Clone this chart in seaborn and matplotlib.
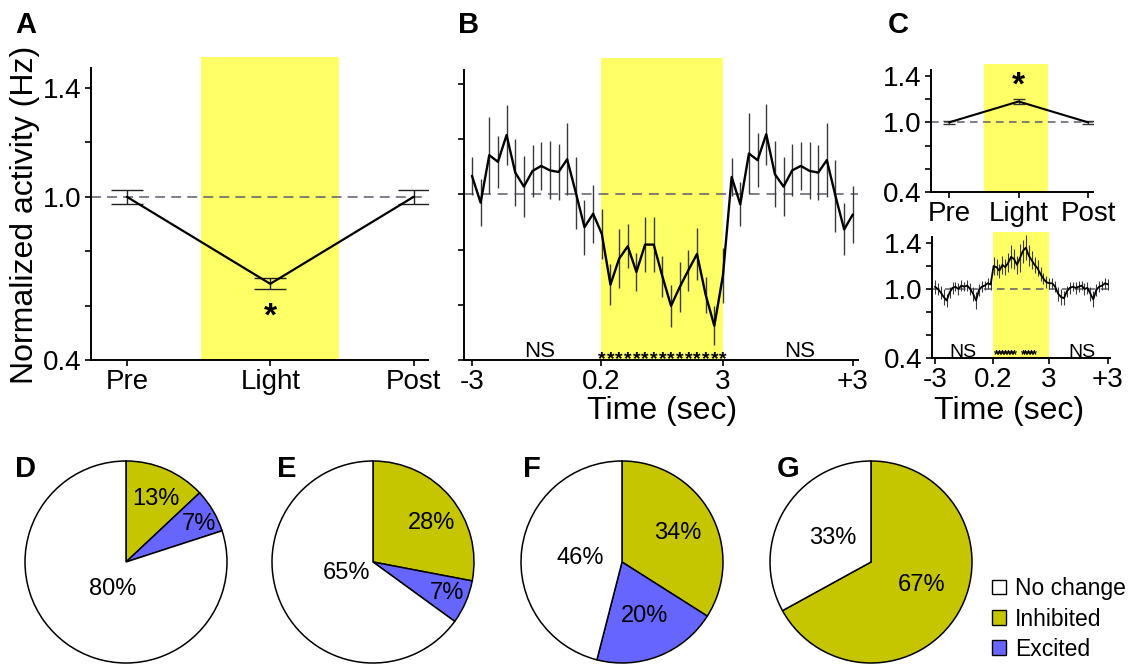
import numpy as np
import pandas as pd
import matplotlib
matplotlib.use("Agg")
import matplotlib.pyplot as plt
from matplotlib.patches import Patch
import seaborn as sns

sns.set_theme(style="ticks")
plt.rcParams['font.family'] = ['Liberation Sans', 'DejaVu Sans']
plt.rcParams['text.color'] = 'black'
plt.rcParams['axes.labelcolor'] = 'black'
plt.rcParams['xtick.color'] = 'black'
plt.rcParams['ytick.color'] = 'black'

# ---------------- data ----------------
phases = ["Pre", "Light", "Post"]
a_mean = [1.00, 0.68, 1.00]
a_err = [0.025, 0.02, 0.025]
c_mean = [1.00, 1.18, 1.00]
c_err = [0.01, 0.025, 0.01]

y_tick_vals = [0.4, 0.6, 0.8, 1.0, 1.2, 1.4]
y_tick_text = ["0.4", "", "", "1.0", "", "1.4"]
time_tick_text = ["-3", "0.2", "3", "+3"]

b_mean = [1.067, 0.970, 1.142, 1.118, 1.215, 1.079, 1.028, 1.085, 1.103, 1.087, 1.081, 1.127, 1.006, 0.881, 0.930,
          0.857, 0.673, 0.767, 0.812, 0.719, 0.818, 0.818, 0.703, 0.596, 0.664, 0.725, 0.784, 0.636, 0.524, 0.707,
          1.063, 0.964, 1.148, 1.124, 1.218, 1.073, 1.028, 1.087, 1.103, 1.085, 1.079, 1.124, 0.994, 0.873, 0.927]
b_err = [0.07, 0.085, 0.14, 0.095, 0.11, 0.12, 0.11, 0.095, 0.087, 0.105, 0.10, 0.13, 0.13, 0.10, 0.105,
         0.09, 0.075, 0.107, 0.08, 0.07, 0.10, 0.10, 0.073, 0.077, 0.09, 0.074, 0.094, 0.064, 0.07, 0.10,
         0.07, 0.08, 0.145, 0.097, 0.11, 0.12, 0.107, 0.094, 0.088, 0.103, 0.10, 0.135, 0.13, 0.094, 0.103]
b_sig_bins = list(range(15, 30))

c2_mean = [1.02, 1.00, 0.97, 0.93, 0.90, 0.97, 1.01, 1.02, 1.00, 1.03, 1.02, 1.03, 1.00, 0.96, 0.90, 0.99, 1.02, 1.03, 1.05, 1.04,
           1.20, 1.19, 1.16, 1.21, 1.19, 1.23, 1.28, 1.26, 1.21, 1.27, 1.33, 1.36, 1.29, 1.25, 1.21, 1.18, 1.13, 1.09, 1.06,
           1.05, 1.05, 1.02, 0.96, 0.93, 0.92, 0.98, 1.01, 1.02, 1.01, 1.02, 1.03, 1.00, 1.01, 0.96, 0.91, 0.99, 1.02, 1.03, 1.05, 1.04]
c2_err = [0.06, 0.05, 0.06, 0.07, 0.06, 0.05, 0.05, 0.04, 0.05, 0.05, 0.04, 0.05, 0.05, 0.06, 0.07, 0.05, 0.05, 0.04, 0.05, 0.05,
          0.08, 0.07, 0.06, 0.08, 0.07, 0.08, 0.10, 0.09, 0.08, 0.12, 0.10, 0.11, 0.09, 0.08, 0.07, 0.07, 0.06, 0.05, 0.05,
          0.05, 0.05, 0.05, 0.06, 0.07, 0.06, 0.05, 0.05, 0.04, 0.05, 0.05, 0.04, 0.05, 0.05, 0.06, 0.07, 0.05, 0.05, 0.04, 0.05, 0.05]
c2_sig_bins = [21, 22, 23, 24, 25, 26, 27, 30, 31, 32, 33, 34]

pie_panels = ["D", "E", "F", "G"]
pie_categories = ["No change", "Inhibited", "Excited"]
pct_inhibited = [13, 28, 34, 67]
pct_excited = [7, 7, 20, 0]
pct_nochange = [80, 65, 46, 33]

# ---------------- style ----------------
YELLOW = "#FFFF66"
OLIVE = "#C6C600"
BLUE = "#6666FF"
DASH = "#5c5c6c"
TICK_FS = 20

W, H = 1131, 665
fig = plt.figure(figsize=(W / 100, H / 100), dpi=100)


def px_axes(x0, y0, x1, y1):
    return fig.add_axes([x0 / W, 1 - y1 / H, (x1 - x0) / W, (y1 - y0) / H])


def style_axes(ax, ytop=1.45, xfs=TICK_FS):
    sns.despine(ax=ax)
    ax.spines['left'].set_bounds(0.4, ytop)
    for s in ['left', 'bottom']:
        ax.spines[s].set_linewidth(1.4)
        ax.spines[s].set_color('black')
    ax.tick_params(axis='both', direction='out', length=4.5, width=1.2, color='black',
                   labelcolor='black', pad=2)
    ax.tick_params(axis='y', labelsize=TICK_FS)
    ax.tick_params(axis='x', labelsize=xfs)
    ax.set_yticks(y_tick_vals)
    ax.set_facecolor('none')
    ax.grid(False)


# ---------------- Panel A ----------------
axA = px_axes(91, 57, 428, 360)
axA.set_xlim(-0.25, 2.10)
axA.set_ylim(0.4, 1.514)
axA.axvspan(0.52, 1.48, color=YELLOW, lw=0, zorder=0)
axA.axhline(1.0, color=DASH, lw=1.1, ls=(0, (6.5, 4)), zorder=1)
dfA = pd.DataFrame({"x": np.arange(3), "y": a_mean})
sns.lineplot(data=dfA, x="x", y="y", ax=axA, color="black", lw=1.6, zorder=3)
axA.errorbar(np.arange(3), a_mean, yerr=a_err, fmt='none', ecolor='#222222',
             elinewidth=1.0, capsize=11.5, capthick=1.0, zorder=2)
axA.text(1, 0.525, "*", ha='center', va='baseline', fontsize=24, fontweight='bold')
style_axes(axA, ytop=1.473)
axA.set_yticklabels(y_tick_text)
axA.set_xticks(np.arange(3))
axA.set_xticklabels(phases)
axA.set_xlabel("")
axA.set_ylabel("Normalized activity (Hz)", fontsize=23)
axA.yaxis.set_label_coords(-0.15, 0.48)

# ---------------- Panel B ----------------
axB = px_axes(464, 58, 858, 360)
axB.set_xlim(-0.92, 44.6)
axB.set_ylim(0.4, 1.494)
nb = len(b_mean)
xb = np.arange(nb)
axB.axvspan(14.9, 29.05, color=YELLOW, lw=0, zorder=0)
axB.axhline(1.0, color=DASH, lw=1.1, ls=(0, (6.5, 4.5)), zorder=1)
axB.vlines(xb, np.array(b_mean) - np.array(b_err), np.array(b_mean) + np.array(b_err),
           color='#3a3a3a', lw=1.0, zorder=2)
sns.lineplot(x=xb, y=b_mean, ax=axB, color='black', lw=1.7, zorder=3)
for i in b_sig_bins:
    axB.text(i, 0.385, "*", ha='center', va='baseline', fontsize=14, fontweight='bold', clip_on=False)
axB.text(7.85, 0.411, "NS", ha='center', va='baseline', fontsize=16)
axB.text(37.9, 0.411, "NS", ha='center', va='baseline', fontsize=16)
style_axes(axB, ytop=1.45, xfs=20)
axB.set_yticklabels([])
axB.set_xticks([0, 14.9, 29, 44])
axB.set_xticklabels(time_tick_text)
axB.set_ylabel("")
axB.set_xlabel("Time (sec)", fontsize=23)
axB.xaxis.set_label_coords(0.503, -0.118)

# ---------------- Panel C top ----------------
axC = px_axes(931, 64, 1093, 192)
axC.set_xlim(-0.26, 2.07)
axC.set_ylim(0.4, 1.503)
axC.axvspan(0.5, 1.42, color=YELLOW, lw=0, zorder=0)
axC.axhline(1.0, color=DASH, lw=1.1, ls=(0, (5, 3.5)), zorder=1)
sns.lineplot(x=np.arange(3), y=c_mean, ax=axC, color='black', lw=1.5, zorder=3)
axC.errorbar(np.arange(3), c_mean, yerr=c_err, fmt='none', ecolor='#333333',
             elinewidth=1.0, capsize=4.5, capthick=1.0, zorder=2)
axC.text(1, 1.24, "*", ha='center', va='baseline', fontsize=24, fontweight='bold')
style_axes(axC, ytop=1.45)
axC.set_yticklabels(y_tick_text)
axC.set_xticks(np.arange(3))
axC.set_xticklabels(phases)
axC.set_xlabel("")
axC.set_ylabel("")

# ---------------- Panel C bottom ----------------
axC2 = px_axes(932, 232, 1110, 358)
axC2.set_xlim(-1.0, 59.7)
axC2.set_ylim(0.4, 1.496)
nc = len(c2_mean)
xc = np.arange(nc)
axC2.axvspan(19.8, 38.9, color=YELLOW, lw=0, zorder=0)
axC2.axhline(1.0, color=DASH, lw=1.1, ls=(0, (5, 3.5)), zorder=1)
axC2.vlines(xc, np.array(c2_mean) - np.array(c2_err), np.array(c2_mean) + np.array(c2_err),
            color='#3a3a3a', lw=0.8, zorder=2)
sns.lineplot(x=xc, y=c2_mean, ax=axC2, color='black', lw=1.3, zorder=3)
for i in c2_sig_bins:
    axC2.text(i, 0.40, "*", ha='center', va='baseline', fontsize=9, fontweight='bold', clip_on=False)
axC2.text(9.6, 0.405, "NS", ha='center', va='baseline', fontsize=14)
axC2.text(50.2, 0.405, "NS", ha='center', va='baseline', fontsize=14)
style_axes(axC2, ytop=1.45)
axC2.set_yticklabels(y_tick_text)
axC2.set_xticks([0, 19.8, 38.9, 59])
axC2.set_xticklabels(time_tick_text)
axC2.set_ylabel("")
axC2.set_xlabel("Time (sec)", fontsize=23)
axC2.xaxis.set_label_coords(0.433, -0.30)

# ---------------- Pies ----------------
pie_centers = [(126, 562), (373, 562), (622, 562), (871, 562)]
pie_text_xy = [
    [(-0.13, -0.27), (0.30, 0.62), (0.72, 0.38)],
    [(-0.26, -0.11), (0.58, 0.39), (0.73, -0.31)],
    [(-0.41, 0.04), (0.55, 0.29), (0.22, -0.53)],
    [(-0.38, 0.24), (0.50, -0.23), (0.0, 0.0)],
]
R = 101
for k, (cx, cy) in enumerate(pie_centers):
    ax = px_axes(cx - R * 1.03, cy - R * 1.03, cx + R * 1.03, cy + R * 1.03)
    vals = [pct_inhibited[k], pct_excited[k], pct_nochange[k]]
    cols = [OLIVE, BLUE, "white"]
    keep = [j for j, v in enumerate(vals) if v > 0]
    ax.pie([vals[j] for j in keep], colors=[cols[j] for j in keep], startangle=90,
           counterclock=False, radius=1,
           wedgeprops=dict(edgecolor='black', linewidth=1.1))
    ax.set_xlim(-1.03, 1.03)
    ax.set_ylim(-1.03, 1.03)
    ax.set_aspect('equal')
    order = [pct_nochange[k], pct_inhibited[k], pct_excited[k]]
    for j, v in enumerate(order):
        if v > 0:
            tx, ty = pie_text_xy[k][j]
            ax.text(tx, ty, f"{v}%", ha='center', va='center', fontsize=17, color='black')

# legend
handles = [Patch(facecolor=c, edgecolor='black', linewidth=1.0) for c in ["white", OLIVE, BLUE]]
fig.legend(handles, pie_categories, loc='center left', bbox_to_anchor=(992 / W, 1 - 619 / H),
           frameon=False, fontsize=16.5, handlelength=0.6, handleheight=0.6,
           handletextpad=0.4, labelspacing=0.32, borderpad=0, borderaxespad=0,
           labelcolor='black')

# panel letters
letters = [("A", 15, 33), ("B", 458, 33), ("C", 888, 33), ("D", 15, 477),
           ("E", 277, 477), ("F", 523, 477), ("G", 777, 477)]
for t, x, y in letters:
    fig.text(x / W, 1 - y / H, t, fontsize=21, fontweight='bold', ha='left', va='baseline', color='black')

fig.savefig("out.png", dpi=100)
